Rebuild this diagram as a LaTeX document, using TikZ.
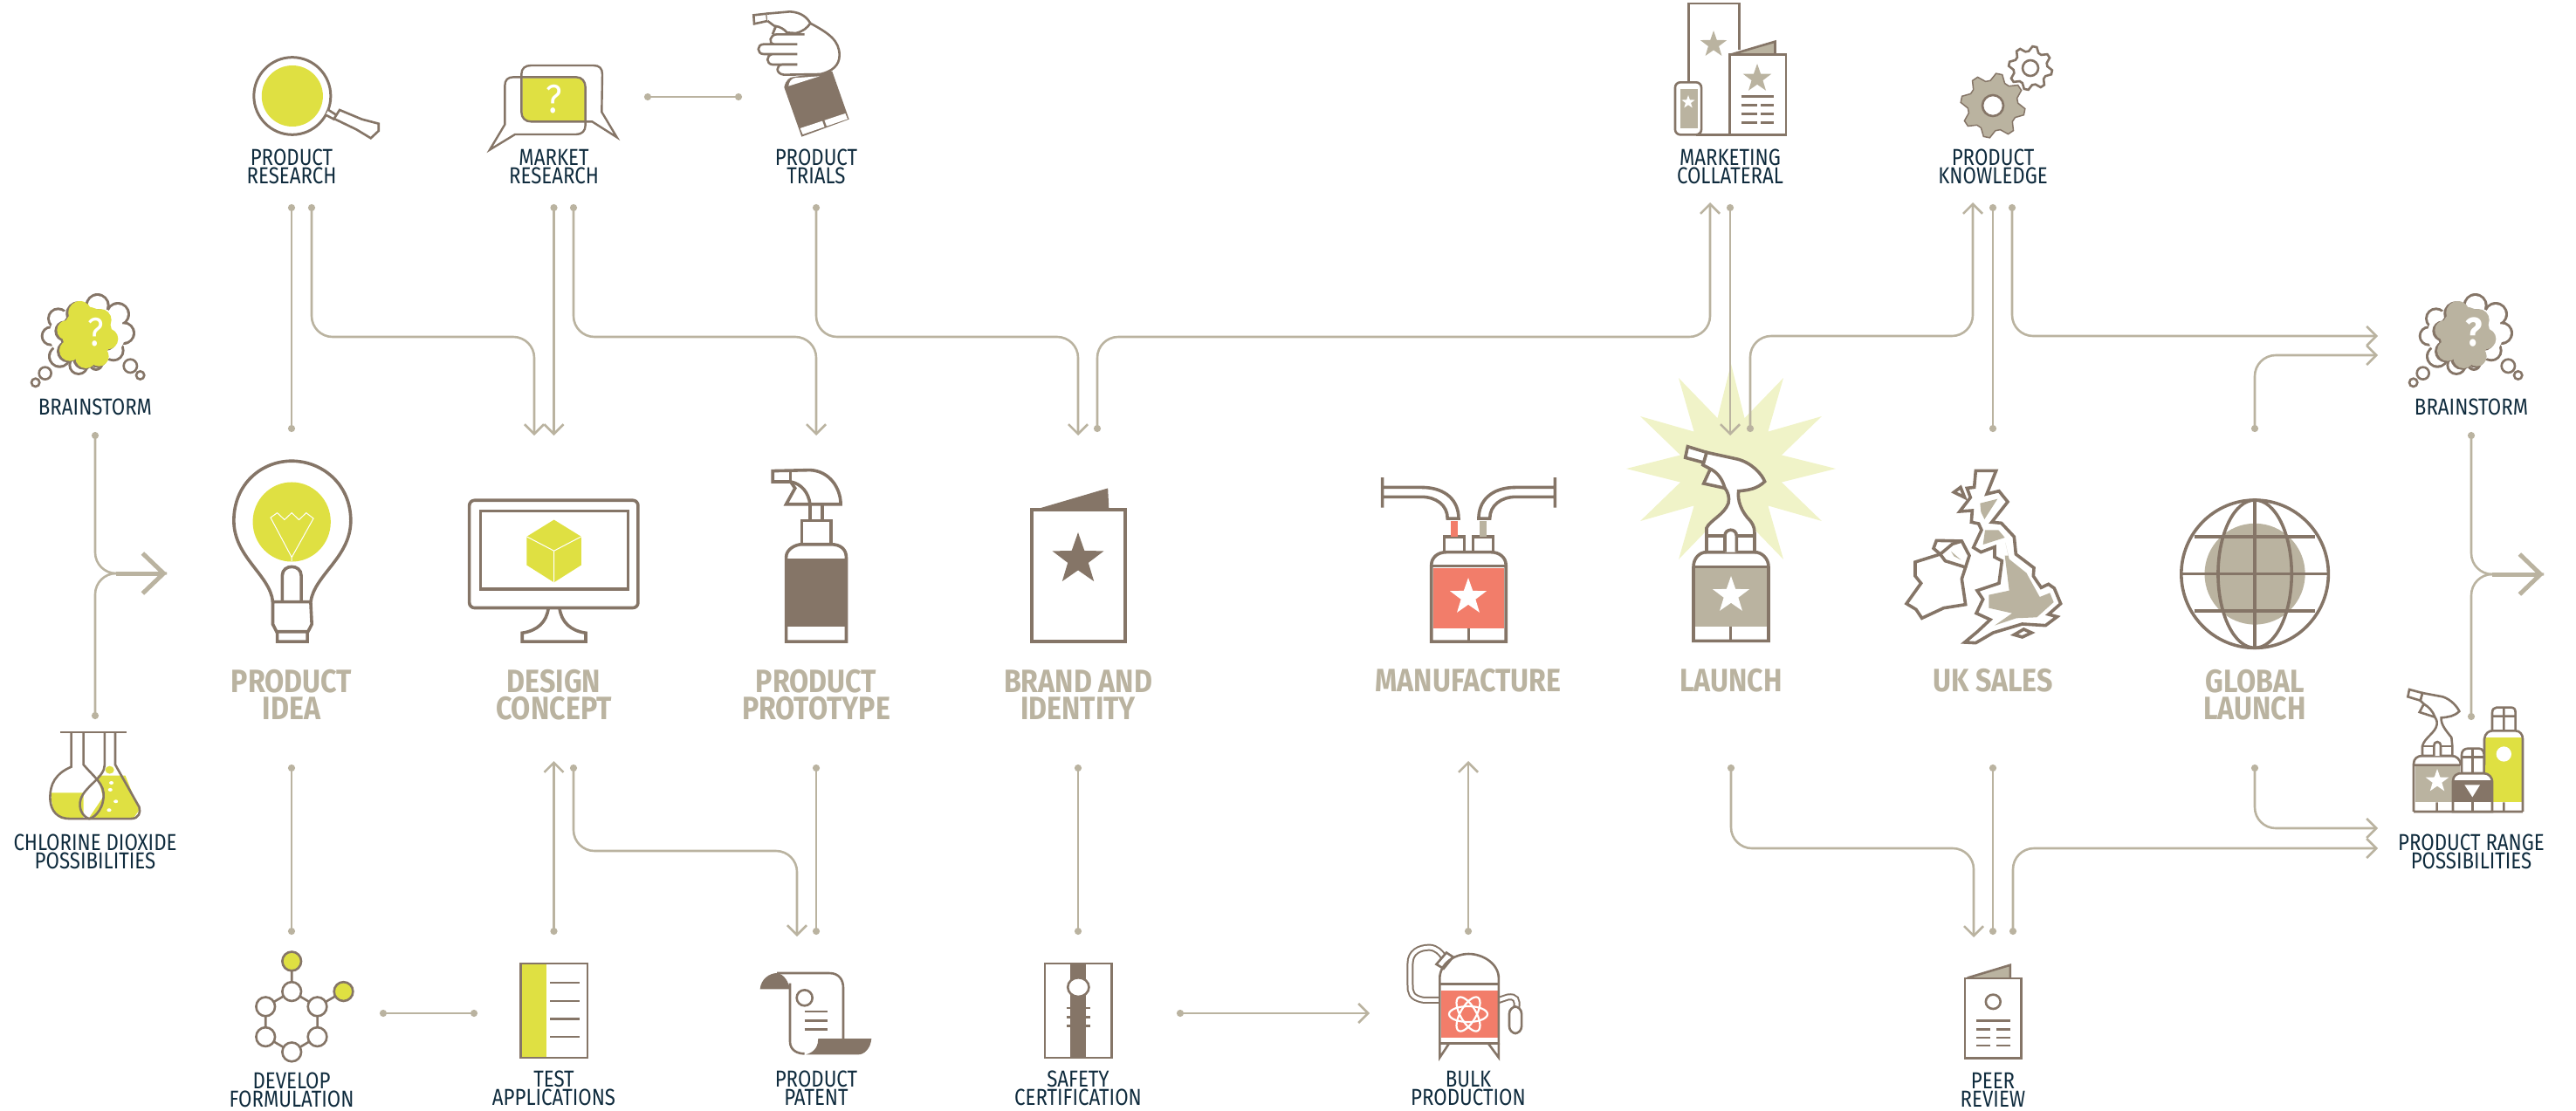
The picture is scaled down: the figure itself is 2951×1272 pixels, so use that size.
\documentclass[tikz,border=0pt]{standalone}
\usepackage{fontspec}
\setmainfont{Fira Sans}[FakeStretch=0.87]
\newfontfamily\smallfam{Fira Sans}[FakeStretch=0.84]
\usetikzlibrary{arrows.meta}
\definecolor{brn}{HTML}{857567}
\definecolor{tan}{HTML}{BAB3A0}
\definecolor{lime}{HTML}{DFE042}
\definecolor{coral}{HTML}{F27D6A}
\definecolor{pale}{HTML}{F0F3C8}
\definecolor{navy}{HTML}{0F2B3D}
\tikzset{
 link/.style={draw=tan,line width=2.6pt,rounded corners=24pt},
 dd/.style={{Circle[length=8pt,width=8pt]}-{Circle[length=8pt,width=8pt]}},
 da/.style={{Circle[length=8pt,width=8pt]}-{Straight Barb[length=11pt,width=22pt]}},
 big/.style={line width=5pt,-{Straight Barb[length=24pt,width=46pt]}},
 small/.style={font=\smallfam\fontsize{26.5}{21}\selectfont,text=navy,align=center,inner sep=0pt},
 large/.style={font=\fontsize{37}{31}\selectfont\bfseries,text=tan,align=center,inner sep=0pt},
 ic/.style={draw=brn,line width=3.6pt,line join=miter},
 il/.style={draw=brn,line width=2.6pt,line join=miter},
 zA/.style={x=0.6378pt,y=-0.3333pt},
 zB/.style={shift={(0,500)},x=0.6378pt,y=-0.495pt},
 zC/.style={shift={(1000,500)},x=0.6378pt,y=-0.495pt},
 zD/.style={shift={(1800,0)},x=0.7342pt,y=-0.3333pt},
 zE/.style={shift={(1850,420)},x=0.7022pt,y=-0.5464pt},
 cr/.style={x=0.3333pt,y=-0.3333pt},
 qm/.style={text=white,inner sep=0pt,font=\fontsize{46}{46}\selectfont},
}
\newcommand{\starat}[4]{\fill[#4,shift={(#1,#2)}] plot[samples at={0,...,9},variable=\k] ({#3*(0.4+0.6*(mod(\k,2)==0))*sin(36*\k)},{-#3*(0.4+0.6*(mod(\k,2)==0))*cos(36*\k)}) -- cycle;}
\newcommand{\gearat}[5]{\path[#5,shift={(#1,#2)}] plot[samples at={0,...,31},variable=\k] ({#3*(0.78+0.22*(mod(\k,4)<2))*cos(11.25*\k+#4)},{#3*(0.78+0.22*(mod(\k,4)<2))*sin(11.25*\k+#4)}) -- cycle;}
\newcommand{\cloudicon}[3]{%
 \begin{scope}[shift={(#1,#2)},cr]
 \foreach \x/\y/\r in {275/60/42,345/90/42,365/155/40,330/215/38,210/265/35,145/235/40,115/165/35,140/105/38,200/85/30,270/260/25}
   \fill[brn] (\x,\y) circle (\r);
 \foreach \x/\y/\r in {275/60/33,345/90/33,365/155/31,330/215/29,210/265/26,145/235/31,115/165/26,140/105/29,200/85/21,270/260/16}
   \fill[white] (\x,\y) circle (\r);
 \fill[white] (240,160) ellipse [x radius=130,y radius=100];
 \foreach \x/\y/\r in {215/85/42,285/110/40,310/175/38,280/235/36,235/240/38,180/215/38,170/145/36}
   \fill[brn] ({\x-7},{\y+3}) circle (\r);
 \fill[brn] (233,163) ellipse [x radius=85,y radius=95];
 \foreach \x/\y/\r in {215/85/40,285/110/38,310/175/36,280/235/34,235/240/36,180/215/36,170/145/34}
   \fill[#3] (\x,\y) circle (\r);
 \fill[#3] (240,160) ellipse [x radius=85,y radius=95];
 \draw[il,fill=white] (95,293) circle (21);
 \draw[il,fill=white] (62,325) circle (14);
 \draw[il,fill=white] (388,268) circle (23);
 \draw[il,fill=white] (422,300) circle (14);
 \end{scope}}
\begin{document}
\begin{tikzpicture}[x=1pt,y=-1pt]
\useasboundingbox (0,0) rectangle (2951,1272);
% starburst
\fill[pale,shift={(1983,537)}] plot[samples at={0,...,23},variable=\k] ({(60+60*(mod(\k,2)==0))*cos(15*\k)},{(60+60*(mod(\k,2)==0))*sin(15*\k)}) -- cycle;
% connector ends
\foreach \n/\x/\y in {
 a1/334/234,a2/334/495,b1/357/234,b2/612/499,c1/634.5/234,c2/634.5/499,d1/657/234,d2/935/499,
 e1/935/234,e2/1235/499,f1/1257/495,f2/1959/232,g1/1982/234,g2/1982/499,h1/2005/495,h2/2260/232,
 i1/2283/234,i2/2283/495,j1/2305/234,j2/2724/385,k1/2583/495,k2/2724/407,l1/738/111,l2/850/111,
 m1/334/876,m2/334/1071,n1/634.5/1071,n2/634.5/872,o1/657/876,o2/913/1073,p1/935/876,p2/935/1071,
 q1/435/1161,q2/547/1161,r1/1235/876,r2/1235/1071,s1/1348/1161,s2/1569/1161,t1/1682/1071,t2/1682/872,
 u1/1983/876,u2/2261/1074,v1/2283/876,v2/2283/1071,w1/2306/1071,w2/2724/972,x1/2583/876,x2/2724/949,
 y1/109/495,y2/109/824,y3/191/657,z1/2831/495,z2/2831/825,z3/2914/658}
 {\coordinate (\n) at (\x,\y);}
\draw[link,dd] (a1) -- (a2);
\draw[link,da] (b1) -- (b1 |- 0,386) -- (b2 |- 0,386) -- (b2);
\draw[link,da] (c1) -- (c2);
\draw[link,da] (d1) -- (d1 |- 0,386) -- (d2 |- 0,386) -- (d2);
\draw[link,da] (e1) -- (e1 |- 0,386) -- (e2 |- 0,386) -- (e2);
\draw[link,da] (f1) -- (f1 |- 0,386) -- (f2 |- 0,386) -- (f2);
\draw[link,da] (g1) -- (g2);
\draw[link,da] (h1) -- (h1 |- 0,385) -- (h2 |- 0,385) -- (h2);
\draw[link,dd] (i1) -- (i2);
\draw[link,da] (j1) -- (j1 |- j2) -- (j2);
\draw[link,da] (k1) -- (k1 |- k2) -- (k2);
\draw[link,dd] (l1) -- (l2);
\draw[link,dd] (m1) -- (m2);
\draw[link,da] (n1) -- (n2);
\draw[link,da] (o1) -- (o1 |- 0,975) -- (o2 |- 0,975) -- (o2);
\draw[link,dd] (p1) -- (p2);
\draw[link,dd] (q1) -- (q2);
\draw[link,dd] (r1) -- (r2);
\draw[link,da] (s1) -- (s2);
\draw[link,da] (t1) -- (t2);
\draw[link,da] (u1) -- (u1 |- 0,972) -- (u2 |- 0,972) -- (u2);
\draw[link,dd] (v1) -- (v2);
\draw[link,da] (w1) -- (w1 |- w2) -- (w2);
\draw[link,da] (x1) -- (x1 |- x2) -- (x2);
\draw[link,-{Circle[length=8pt,width=8pt]}] (y3) -- (y2 |- y3) -- (y2);
\draw[link,{Circle[length=8pt,width=8pt]}-] (y1) -- (y1 |- y3) -- (y3);
\draw[link,big] (y2 |- y3) ++(24,0) -- (y3);
\draw[link,-{Circle[length=8pt,width=8pt]}] (z3) -- (z2 |- z3) -- (z2);
\draw[link,{Circle[length=8pt,width=8pt]}-] (z1) -- (z1 |- z3) -- (z3);
\draw[link,big] (z2 |- z3) ++(24,0) -- (z3);
% labels
\node[small] (t01) at (109,466) {BRAINSTORM};
\node[small] (t02) at (109,976) {CHLORINE DIOXIDE\\POSSIBILITIES};
\node[small] (t03) at (334,191) {PRODUCT\\RESEARCH};
\node[small] (t04) at (634.5,191) {MARKET\\RESEARCH};
\node[small] (t05) at (935,191) {PRODUCT\\TRIALS};
\node[small] (t06) at (1982,191) {MARKETING\\COLLATERAL};
\node[small] (t07) at (2283,191) {PRODUCT\\KNOWLEDGE};
\node[small] (t08) at (2831,466) {BRAINSTORM};
\node[small] (t09) at (2831,976) {PRODUCT RANGE\\POSSIBILITIES};
\node[small] (t10) at (334,1249) {DEVELOP\\FORMULATION};
\node[small] (t11) at (634.5,1247) {TEST\\APPLICATIONS};
\node[small] (t12) at (935,1247) {PRODUCT\\PATENT};
\node[small] (t13) at (1235,1247) {SAFETY\\CERTIFICATION};
\node[small] (t14) at (1682,1247) {BULK\\PRODUCTION};
\node[small] (t15) at (2283,1249) {PEER\\REVIEW};
\node[large] (b1n) at (334,796) {PRODUCT\\IDEA};
\node[large] (b2n) at (634.5,796) {DESIGN\\CONCEPT};
\node[large] (b3n) at (935,796) {PRODUCT\\PROTOTYPE};
\node[large] (b4n) at (1235,796) {BRAND AND\\IDENTITY};
\node[large] (b5n) at (1682,780) {MANUFACTURE};
\node[large] (b6n) at (1983,780) {LAUNCH};
\node[large] (b7n) at (2283,780) {UK SALES};
\node[large] (b8n) at (2583,796) {GLOBAL\\LAUNCH};
% clouds
\cloudicon{20}{330}{lime}
\node[qm] (qa) at (110,381) {?};
\cloudicon{2744}{330}{tan}
\node[qm,font=\fontsize{46}{46}\selectfont\bfseries] (qb) at (2834,381) {?};
% magnifier
\begin{scope}[zA]
\fill[lime] (525,330) ellipse [x radius=55,y radius=105];
\draw[il,line width=3pt] (525,330) ellipse [x radius=69,y radius=133];
\draw[il,fill=white] (590,378) -- (608,400) -- (600,410) -- (585,395);
\draw[il,fill=white] (610,378) -- (650,410) -- (680,425) -- (680,450) -- (666,475) -- (640,445) -- (600,408) -- cycle;
\end{scope}
% market research
\begin{scope}[shift={(550,60)},cr]
\fill[lime] (145,88) -- (330,88) .. controls (350,88) and (362,100) .. (362,120) -- (362,238) -- (175,238) .. controls (155,238) and (145,225) .. (145,205) -- cycle;
\draw[il,line width=2.4pt] (142,205) -- (142,75) .. controls (142,55) and (155,45) .. (175,45) -- (390,45) .. controls (410,45) and (420,55) .. (420,75) -- (418,205) -- (470,292) -- (385,238) -- (175,238) .. controls (155,238) and (142,225) .. (142,205) -- cycle;
\draw[il,line width=2.4pt] (85,248) -- (85,115) .. controls (85,95) and (95,85) .. (115,85) -- (330,85) .. controls (350,85) and (362,100) .. (362,120) -- (362,250) .. controls (362,270) and (350,282) .. (330,282) -- (120,282) -- (33,335) -- cycle;
\end{scope}
\node[qm] (qc) at (634.5,114) {?};
% product trials
\begin{scope}[shift={(840,0)},cr]
\fill[brn] (175,300) .. controls (180,275) and (195,265) .. (205,265) -- (340,245) -- (398,410) -- (235,470) -- cycle;
\fill[white] (190,296) .. controls (192,280) and (200,272) .. (210,268) -- (297,262) -- cycle;
\fill[white] (230,441) -- (385,390) -- (393,409) -- (239,462) -- cycle;
\draw[brn,line width=2.4pt] (308,410) -- (318,437);
\draw[il,fill=white] (220,222) -- (135,222) .. controls (112,220) and (112,190) .. (135,186) -- (220,186) -- (105,186) .. controls (80,186) and (80,152) .. (105,152) -- (220,152) -- (140,152) .. controls (120,150) and (125,118) .. (150,118) -- (245,118);
\draw[il,fill=white] (265,80) .. controls (330,115) and (365,140) .. (365,190) .. controls (365,225) and (340,245) .. (300,255) -- (175,257) .. controls (145,255) and (145,222) .. (170,222) -- (220,222);
\draw[il,fill=white] (70,52) -- (115,47) -- (118,72) -- (72,82) -- cycle;
\draw[il,fill=white] (115,47) -- (195,40) .. controls (235,42) and (255,62) .. (265,80) .. controls (255,95) and (240,108) .. (215,114) -- (185,112) .. controls (175,100) and (160,92) .. (147,90) -- (135,118) -- (145,92) -- (118,72);
\end{scope}
% bulb
\begin{scope}[zB]
\fill[lime] (524,198) ellipse [x radius=70,y radius=92];
\draw[white,line width=1pt] (486,188) -- (498,177) -- (511,193) -- (524,177) -- (537,193) -- (550,177) -- (563,190) -- (524,280) -- cycle (524,280) -- (524,290);
\draw[ic] (490,383) .. controls (485,320) and (420,280) .. (420,195) .. controls (420,110) and (470,57) .. (524,57) .. controls (578,57) and (630,110) .. (630,195) .. controls (630,280) and (565,320) .. (558,383);
\draw[ic] (490,383) -- (558,383) -- (560,435) -- (552,455) -- (552,475) -- (498,475) -- (498,455) -- (490,435) -- cycle (498,452) -- (552,452);
\draw[ic] (507,383) -- (507,322) .. controls (507,295) and (541,295) .. (541,322) -- (541,383);
% monitor
\draw[ic,rounded corners=6pt] (843,148) rectangle (1146,397);
\draw[ic] (863,173) rectangle (1128,353);
\draw[ic] (985,397) .. controls (982,430) and (965,450) .. (938,455) -- (938,475) -- (1052,475) -- (1052,455) .. controls (1025,450) and (1008,430) .. (1005,397);
\fill[lime] (995,193) -- (1044,232) -- (1044,298) -- (995,338) -- (946,298) -- (946,232) -- cycle;
\draw[white,line width=1pt] (946,232) -- (995,265) -- (1044,232) (995,265) -- (995,338);
% prototype
\fill[brn] (1412,283) rectangle (1520,440);
\draw[ic] (1412,475) -- (1412,280) .. controls (1412,260) and (1430,250) .. (1440,250) -- (1493,250) .. controls (1510,250) and (1520,262) .. (1520,280) -- (1520,475) -- cycle;
\draw[ic] (1440,250) -- (1440,195) -- (1493,195) -- (1493,250);
\draw[ic] (1455,195) -- (1455,157) (1477,195) -- (1477,157);
\draw[ic] (1388,80) -- (1455,78) .. controls (1490,80) and (1510,120) .. (1510,157) -- (1412,157) -- (1428,120) -- (1420,105) -- (1388,105) -- cycle;
\draw[ic] (1420,105) .. controls (1440,110) and (1452,130) .. (1455,157);
\draw[ic] (1420,80) -- (1420,105);
% flasks
\fill[lime] (92,825) -- (150,825) -- (150,885) -- (110,885) .. controls (95,875) and (92,850) .. (92,825) -- cycle;
\fill[lime] (175,785) -- (225,785) -- (250,865) -- (240,883) -- (160,883) -- (185,835) -- cycle;
\fill[lime] (197,772) ellipse [x radius=8,y radius=9];
\foreach \p in {(200,802),(198,818),(208,845),(196,865)} \fill[white] \p ellipse [x radius=4,y radius=4];
\draw[il] (108,685) -- (228,685);
\draw[il] (128,685) -- (128,765) .. controls (100,780) and (90,805) .. (90,835) .. controls (90,870) and (105,885) .. (125,885) -- (235,885) .. controls (250,885) and (253,870) .. (250,858) -- (207,760) -- (207,685);
\draw[il] (150,685) -- (150,760) .. controls (170,790) and (188,805) .. (186,835) .. controls (184,870) and (165,885) .. (160,885) .. controls (148,880) and (140,860) .. (145,840) .. controls (152,810) and (188,790) .. (188,760) -- (188,685);
% formulation lines
\draw[il] (524,1215) -- (524,1285) -- (477,1320) -- (477,1390) -- (524,1425) -- (570,1390) -- (570,1320) -- (524,1285) (570,1320) -- (617,1285);
\foreach \p in {(524,1285),(477,1320),(570,1320),(477,1390),(570,1390),(524,1425)} \draw[il,fill=white] \p ellipse [x radius=17,y radius=22];
\foreach \p in {(524,1215),(617,1285)} \draw[il,fill=lime] \p ellipse [x radius=17,y radius=22];
% test applications
\fill[lime] (937,1222) rectangle (981,1436);
\draw[il] (935,1220) rectangle (1055,1438);
\foreach \y in {1265,1307,1348,1390} \draw[il] (988,\y) -- (1041,\y);
\end{scope}
% patent
\begin{scope}[shift={(860,1090)},cr]
\fill[brn] (32,130) .. controls (35,95) and (65,75) .. (90,75) .. controls (115,78) and (130,105) .. (135,130) -- cycle;
\fill[brn] (232,300) -- (415,300) .. controls (412,335) and (390,355) .. (370,355) -- (190,355) .. controls (225,345) and (232,320) .. (232,300) -- cycle;
\draw[il] (90,75) -- (270,75) .. controls (305,75) and (318,100) .. (318,125) -- (318,300);
\draw[il] (135,110) -- (135,310) .. controls (135,340) and (160,352) .. (185,352);
\draw[il] (185,160) circle (27);
\foreach \y in {207,238,268} \draw[il] (185,\y) -- (265,\y);
\end{scope}
\begin{scope}[zC]
% brand
\fill[brn] (290,170) -- (422,120) -- (424,172) -- cycle;
\draw[ic] (285,170) rectangle (453,475);
% manufacture
\fill[coral] (1006,305) rectangle (1134,445);
\draw[ic] (1003,475) -- (1003,298) .. controls (1003,280) and (1015,268) .. (1030,268) -- (1110,268) .. controls (1125,268) and (1137,280) .. (1137,298) -- (1137,475) -- cycle;
\draw[ic] (1003,300) -- (1137,300) (1070,445) -- (1070,475);
\draw[ic] (1026,268) -- (1026,232) -- (1062,232) -- (1062,268) (1078,268) -- (1078,232) -- (1114,232) -- (1114,268);
\fill[coral] (1038,195) rectangle (1050,232);
\fill[tan] (1090,195) rectangle (1102,232);
\draw[ic] (915,95) -- (915,165) (915,118) -- (985,118) .. controls (1030,118) and (1052,150) .. (1052,190) -- (1032,190) .. controls (1032,160) and (1012,140) .. (985,140) -- (915,140);
\draw[ic] (1225,95) -- (1225,165) (1225,118) -- (1155,118) .. controls (1110,118) and (1088,150) .. (1088,190) -- (1108,190) .. controls (1108,160) and (1128,140) .. (1155,140) -- (1225,140);
% safety
\fill[brn] (355,1222) rectangle (383,1436);
\draw[il] (309,1220) rectangle (429,1438);
\draw[il,fill=white] (369,1275) ellipse [x radius=19,y radius=22];
\foreach \y in {1323,1345,1365} \draw[brn,line width=2.6pt] (348,\y) -- (390,\y);
% bulk
\draw[brn,line width=2pt,double=white,double distance=4pt] (1018,1305) -- (990,1305) .. controls (965,1300) and (965,1285) .. (965,1270) -- (965,1220) .. controls (965,1195) and (980,1183) .. (1000,1183) .. controls (1012,1184) and (1020,1195) .. (1025,1205);
\draw[brn,line width=2pt,double=white,double distance=4pt] (1124,1305) -- (1140,1298) .. controls (1155,1295) and (1158,1305) .. (1156,1322);
\draw[il,fill=white] (1012,1222) -- (1030,1195) -- (1042,1205) -- (1025,1232) -- cycle;
\fill[coral] (1020,1282) rectangle (1122,1392);
\draw[il] (1018,1275) -- (1018,1255) .. controls (1018,1220) and (1045,1198) .. (1070,1198) .. controls (1095,1198) and (1124,1220) .. (1124,1255) -- (1124,1405) -- (1018,1405) -- cycle;
\draw[il] (1018,1268) -- (1124,1268);
\draw[il] (1018,1405) -- (1018,1438) -- (1035,1405) (1124,1405) -- (1124,1438) -- (1105,1405);
\draw[il,rounded corners=8pt] (1143,1320) rectangle (1165,1382);
\end{scope}
\begin{scope}[shift={(1682,1162)}]
\foreach \r in {0,60,120} \draw[white,line width=2.2pt,rotate=\r] (0,0) ellipse [x radius=22,y radius=9];
\end{scope}
\starat{1235}{641}{31}{brn}
\starat{1682}{684}{22}{white}
% marketing
\begin{scope}[zD]
\draw[il] (183,460) -- (183,12) -- (262,12) -- (262,170);
\draw[il,fill=tan] (250,187) -- (318,143) -- (318,187);
\draw[il,fill=white] (247,187) rectangle (335,463);
\draw[il] (195,463) -- (247,463);
\draw[il,fill=white,rounded corners=6pt] (162,283) rectangle (203,463);
\fill[tan] (170,305) rectangle (197,440);
\draw[brn,line width=3pt] (265,333) -- (316,333);
\foreach \y in {363,392,421} \draw[brn,line width=3pt] (265,\y) -- (290,\y) (296,\y) -- (316,\y);
\end{scope}
\starat{1963}{51}{16}{tan}
\starat{2013}{90}{17}{tan}
\starat{1934}{117}{8}{white}
% gears
\gearat{2283}{121}{37}{5.6}{fill=tan,draw=brn,line width=1.5pt}
\draw[il,fill=white] (2283,121) circle (12);
\gearat{2326}{78}{25}{5.6}{draw=brn,fill=white,line width=2.6pt}
\draw[il] (2326,78) circle (9);
% launch
\begin{scope}[shift={(1900,490)},cr]
\fill[white] (165,428) -- (330,428) -- (378,478) -- (120,478) -- cycle;
\fill[tan] (125,480) rectangle (372,685);
\fill[white] (125,685) rectangle (372,730);
\draw[ic] (120,478) -- (378,478) (248,685) -- (248,733);
\draw[ic] (120,733) -- (120,478) .. controls (120,450) and (140,428) .. (165,428) -- (330,428) .. controls (355,428) and (378,450) .. (378,478) -- (378,733) -- cycle;
\draw[ic,fill=white] (165,428) -- (165,345) .. controls (175,320) and (225,300) .. (240,260) .. controls (245,240) and (238,220) .. (228,208) -- (155,192) -- (178,142) -- (152,128) -- (165,85) -- (270,108) .. controls (320,120) and (355,160) .. (365,185) .. controls (340,210) and (310,215) .. (275,218) .. controls (270,250) and (285,290) .. (315,320) .. controls (330,340) and (330,350) .. (330,372) -- (330,428) -- cycle;
\draw[ic] (178,142) .. controls (205,155) and (220,180) .. (228,208);
\draw[ic,fill=white] (100,65) -- (165,85) -- (155,120) -- (92,103) -- cycle;
\draw[ic] (165,372) -- (330,372);
\draw[ic,fill=white] (228,428) -- (228,372) .. controls (228,345) and (268,345) .. (268,372) -- (268,428);
\end{scope}
\starat{1983}{682}{22}{white}
% UK
\begin{scope}[shift={(2170,520)},cr]
\fill[tan] (295,170) -- (355,155) -- (310,225) -- (298,200) -- cycle;
\fill[tan] (312,262) -- (358,262) -- (380,288) -- (305,312) -- cycle;
\fill[tan] (382,305) -- (392,350) -- (380,350) -- (395,470) -- (325,485) -- (325,530) -- (405,548) -- (345,590) -- (420,565) -- (490,562) -- (548,510) -- (535,478) -- (500,492) -- (460,420) -- (455,410) -- (395,362) -- cycle;
\fill[tan] (195,335) -- (230,365) -- (205,352) -- cycle;
\draw[ic] (280,58) -- (350,58) -- (318,138) -- (360,128) -- (390,165) -- (335,235) -- (368,238) -- (412,285) -- (418,345) -- (480,392) -- (478,420) -- (505,460) -- (530,448) -- (550,462) -- (572,515) -- (530,552) -- (560,560) -- (520,590) -- (440,585) -- (340,615) -- (280,650) -- (242,648) -- (285,612) -- (330,570) -- (282,548) -- (305,500) -- (285,470) -- (360,445) -- (370,368) -- (345,355) -- (345,320) -- (298,338) -- (272,322) -- (300,262) -- (290,240) -- (265,235) -- (268,195) -- (225,198) -- (262,150) -- (250,118) -- (275,115) -- cycle;
\draw[ic] (72,372) -- (158,345) -- (175,368) -- (245,390) -- (232,430) -- (245,518) -- (170,530) -- (95,565) -- (75,535) -- (42,515) -- (92,445) -- (72,420) -- cycle;
\draw[ic] (158,345) -- (135,325) -- (145,298) -- (232,300) -- (258,350) -- (245,390);
\draw[ic] (158,345) -- (200,310) -- (232,300);
\draw[ic] (205,132) -- (228,115) -- (242,150) -- cycle;
\draw[ic] (412,622) -- (445,603) -- (472,615) -- (440,630) -- cycle;
\end{scope}
\begin{scope}[zE]
% globe
\fill[tan] (1044,435) ellipse [x radius=82,y radius=106];
\draw[ic] (1044,435) ellipse [x radius=120,y radius=155];
\draw[ic] (1044,435) ellipse [x radius=60,y radius=155];
\draw[ic] (1044,280) -- (1044,590) (925,435) -- (1163,435) (945,357) -- (1142,357) (945,512) -- (1142,512);
% review
\fill[tan] (575,1282) -- (645,1255) -- (645,1283) -- cycle;
\draw[il] (575,1282) -- (645,1255) -- (645,1283);
\draw[il] (571,1283) rectangle (663,1450);
\draw[il] (617,1332) ellipse [x radius=12,y radius=15];
\draw[il] (590,1372) -- (645,1372);
\foreach \y in {1390,1407,1424} \draw[il] (590,\y) -- (612,\y) (622,\y) -- (645,\y);
\end{scope}
% range
\begin{scope}[shift={(2740,780)},cr]
\fill[lime] (322,195) rectangle (447,418);
\fill[white] (385,252) circle (26);
\draw[il] (318,290) -- (318,200) .. controls (320,180) and (335,172) .. (345,172) -- (425,172) .. controls (440,172) and (450,185) .. (450,200) -- (450,450);
\draw[il] (345,172) -- (345,110) .. controls (345,98) and (352,92) .. (360,92) -- (410,92) .. controls (420,92) and (425,98) .. (425,110) -- (425,172) (385,92) -- (385,172) (345,122) -- (425,122) (385,418) -- (385,450);
\fill[tan] (80,292) rectangle (235,418);
\draw[il] (75,450) -- (75,285) .. controls (75,268) and (88,258) .. (105,258) -- (205,258) .. controls (222,258) and (235,270) .. (238,290) (75,290) -- (235,290) (155,418) -- (155,450) (75,450) -- (450,450);
\draw[il,fill=white] (105,258) -- (105,225) .. controls (112,195) and (150,180) .. (155,150) .. controls (156,138) and (152,130) .. (148,125) -- (95,108) -- (110,80) -- (98,68) -- (105,42) -- (175,55) .. controls (205,65) and (225,90) .. (232,105) .. controls (215,122) and (195,125) .. (170,127) .. controls (168,150) and (185,170) .. (205,195) -- (208,225) -- (208,258) -- cycle;
\draw[il] (110,80) .. controls (125,88) and (142,105) .. (148,125);
\draw[il,fill=white] (60,30) -- (105,42) -- (98,68) -- (55,55) -- cycle;
\draw[il] (105,225) -- (208,225);
\draw[il,fill=white] (145,258) -- (145,225) .. controls (145,205) and (168,205) .. (168,225) -- (168,258);
\draw[il,fill=white] (210,450) -- (210,345) .. controls (210,325) and (225,318) .. (240,318) -- (315,318) .. controls (335,318) and (345,335) .. (345,345) -- (345,450) -- cycle;
\fill[brn] (210,343) rectangle (345,418);
\fill[white] (250,358) -- (303,358) -- (277,400) -- cycle;
\draw[il] (277,418) -- (277,450);
\draw[il,fill=white] (240,318) -- (240,255) .. controls (240,240) and (250,233) .. (262,233) -- (300,233) .. controls (312,233) and (317,245) .. (317,255) -- (317,318) -- cycle;
\draw[il] (277,233) -- (277,318) (240,262) -- (317,262);
\end{scope}
\starat{2792}{895}{14}{white}
\end{tikzpicture}
\end{document}
